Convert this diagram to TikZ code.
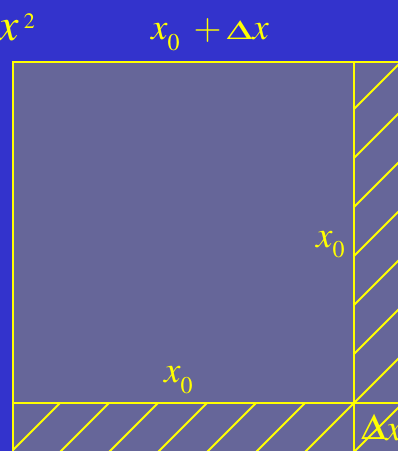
\documentclass[tikz,border=0pt]{standalone}
\usepackage{mathptmx}
\usepackage{graphicx}
\definecolor{bgblue}{RGB}{51,51,204}
\definecolor{sqgray}{RGB}{102,102,153}
\definecolor{ylw}{RGB}{255,255,0}
\newcommand\bigx[1]{{\fontsize{#1}{#1}\selectfont$x$}}
\newcommand\smalldigit[2]{{\fontsize{#1}{#1}\selectfont$#2$}}
\newcommand\xzero{\bigx{37}\kern0pt\raisebox{-10.5pt}{\smalldigit{24}{0}}}
\begin{document}
\begin{tikzpicture}[x=1pt,y=1pt,
  edge/.style={draw=ylw,line width=2pt},
  hatch/.style={draw=ylw,line width=1.8pt},
  lbl/.style={text=ylw,inner sep=0pt}]
\useasboundingbox (0,0) rectangle (398,451);
\fill[bgblue] (0,0) rectangle (398,451);
\fill[sqgray] (13,-5) rectangle (405,389);
% corner coordinates
\coordinate (tl) at (13,389);
\coordinate (tr) at (354,389);
\coordinate (bl) at (13,48);
\coordinate (br) at (354,48);
\coordinate (rt) at (405,389);
\coordinate (rb) at (405,48);
\coordinate (lb) at (13,-5);
\coordinate (mb) at (354,-5);
% hatching
\begin{scope}
\clip (354,-5) rectangle (405,389);
\foreach \k in {-1,...,7} {
  \draw[hatch] (354,48+49*\k) -- ++(60,60);
  \draw[hatch] (354,48+49*\k) -- ++(-60,-60);
}
\end{scope}
\begin{scope}
\clip (13,-5) rectangle (354,48);
\foreach \k in {0,...,7} {
  \draw[hatch] (354-49*\k,48) -- ++(-60,-60);
}
\end{scope}
% edges
\draw[edge] (lb) -- (tl) -- (rt);
\draw[edge] (bl) -- (rb);
\draw[edge] (tr) -- (mb);
% labels
\node[lbl,anchor=base west] (xsq) at (-2,410)
  {\bigx{46}\kern5pt\raisebox{12pt}{\smalldigit{22}{2}}};
\node[lbl,anchor=base west] (top) at (151,411)
  {\xzero\kern14pt{\fontsize{36}{36}\selectfont$+$}\kern5pt\scalebox{1.1}[0.72]{\fontsize{38}{38}\selectfont$\Delta$}\bigx{37}};
\node[lbl,anchor=base west] (right) at (316,204) {\xzero};
\node[lbl,anchor=base west] (bottom) at (164,68) {\xzero};
\node[lbl,anchor=base west] (dx) at (361,11)
  {\scalebox{1}[0.92]{\fontsize{40}{40}\selectfont$\Delta$}\bigx{37}};
\end{tikzpicture}
\end{document}
